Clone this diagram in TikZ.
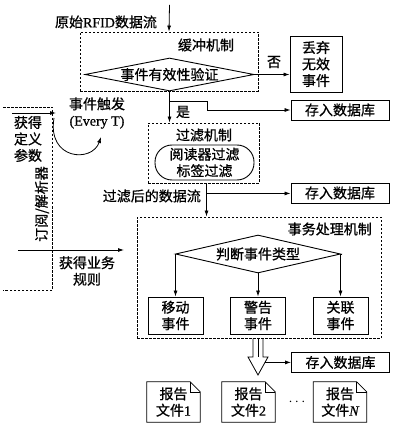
\documentclass[tikz,border=0pt]{standalone}
\usepackage{fontspec}
\setmainfont{Liberation Serif}[FakeBold=0.6]
\newfontfamily\cjk{Noto Sans CJK SC}[FakeBold=0.8]
\usetikzlibrary{positioning,shapes.geometric,arrows.meta,calc}

\tikzset{
    every node/.style={font=\cjk\fontsize{14}{16.5}\selectfont,inner sep=0pt,align=center},
    frame/.style={draw,line width=0.9pt,dash pattern=on 2.5pt off 1.5pt},
    box/.style={draw,line width=0.9pt},
    dbbox/.style={box,minimum width=98pt,minimum height=20pt},
    evbox/.style={box,minimum width=55pt,minimum height=37pt},
    decision/.style={draw,line width=0.9pt,diamond,aspect=5},
    doc/.style={minimum width=53pt,minimum height=40pt},
    arr/.style={-{Latex[length=6pt,width=4pt]},line width=0.8pt}
}

\begin{document}
\begin{tikzpicture}[x=1pt,y=-1pt]
                    \useasboundingbox (0,0) rectangle (408,427);

                    % The input stream
                    \coordinate (in) at (169.5,5);
                    \node (raw) at (106,22) {原始{\rmfamily RFID}数据流};

                    % The buffer
                    \node[frame,minimum width=178pt,minimum height=59pt] (buffer) at (169,61.5) {};
                    \node (buffertitle) at (206,45) {缓冲机制};
                    \node[decision,minimum width=169pt,minimum height=33pt] (valid) at (169.5,74.5) {事件有效性验证};
                    \node[box,minimum width=52pt,minimum height=56pt] (drop) at (316,64) {丢弃\\无效\\事件};
                    \node (no) at (274,62) {否};
                    \node[dbbox] (db1) at (340,110) {存入数据库};
                    \draw[arr] (in) -- (buffer.north);
                    \draw[arr] (valid.east) -- (valid.east -| drop.west);

                    % The filter
                    \node[frame,minimum width=111pt,minimum height=60pt] (filter) at (203.5,153) {};
                    \node (filtertitle) at (204,135) {过滤机制};
                    \node[box,rounded corners=17pt,minimum width=99pt,minimum height=35pt] (reader) at (204.5,162.5) {阅读器过滤\\标签过滤};
                    \node (yes) at (183,112) {是};
                    \coordinate (ysplit) at ($(valid.south)+(0,10)$);
                    \draw[arr] (valid.south) -- (valid.south |- filter.north);
                    \draw[arr] (ysplit) -- ++(38,0) |- (db1.west);

                    % The filtered stream
                    \node[anchor=east] (filtered) at (201,196) {过滤后的数据流};
                    \node[dbbox] (db2) at (340,193) {存入数据库};
                    \coordinate (fout) at ([xshift=3pt]filter.south);
                    \coordinate (fsplit) at ($(fout)+(0,10)$);

                    % The transaction handling
                    \node[frame,minimum width=244pt,minimum height=121pt] (process) at (259,277.5) {};
                    \node[anchor=east] (processtitle) at (372,229) {事务处理机制};
                    \node[decision,aspect=5.8,minimum width=165pt,minimum height=38pt] (type) at (258,254) {判断事件类型};
                    \node[evbox] (move) at (175.5,315.5) {移动\\事件};
                    \node[evbox] (warn) at (258,315.5) {警告\\事件};
                    \node[evbox] (assoc) at (340.5,315.5) {关联\\事件};
                    \draw[arr] (fout) -- (fout |- process.north);
                    \draw[arr] (fsplit) -- (fsplit -| db2.west);
                    \draw[arr] (type.west) -| (move.north);
                    \draw[arr] (type.south) -- (warn.north);
                    \draw[arr] (type.east) -| (assoc.north);

                    % The output
                    \coordinate (sl) at (253,338.5);
                    \coordinate (sm) at (258,338.5);
                    \coordinate (sr) at (263,338.5);
                    \coordinate (tip) at (258,375);
                    \node[dbbox] (db3) at (340.5,362.5) {存入数据库};
                    \draw[line width=0.8pt] (sl) -- ++(0,18.5) -- ++(-5,0) -- (tip) -- ($(sr)+(5,18.5)$) -- ++(-5,0) -- (sr);
                    \draw[line width=0.8pt] (sm) -- ++(0,18.5);
                    \coordinate (wing) at ($($(sr)+(5,18.5)$)!0.3!(tip)$);
                    \draw[arr] (wing) -- (wing -| db3.west);

                    % The reports
                    \node[doc] (rep1) at (173.5,402) {报告\\文件{\rmfamily 1}};
                    \node[doc] (rep2) at (248.5,402) {报告\\文件{\rmfamily 2}};
                    \node[doc] (repN) at (340,402) {报告\\文件{\rmfamily\itshape N}};
                    \node (dots) at (297,402) {$\cdots$};
                    \foreach \d in {rep1,rep2,repN} {
                        \draw[line width=0.8pt] (\d.south west) -- (\d.north west) -- ([xshift=-10pt]\d.north east) -- ([yshift=-10pt]\d.north east) -- (\d.south east) -- cycle;
                        \draw[line width=0.6pt] ([xshift=-10pt]\d.north east) -- ([xshift=-10pt,yshift=-10pt]\d.north east) -- ([yshift=-10pt]\d.north east);
                    }

                    % The subscriber / parser
                    \draw[frame] (3,107) -- (52,107) -- (52,290) -- (3,290);
                    \coordinate (pin) at (12,113);
                    \coordinate (pout) at (56,113);
                    \draw[arr] (pin) -- (pout);
                    \node (params) at (28,139) {获得\\定义\\参数};
                    \node[rotate=90] (parser) at (42,204) {订阅/解析器};
                    \coordinate (tstart) at (54,118);
                    \coordinate (tend) at (101,137);
                    \draw[arr] (tstart) .. controls (47,160) and (92,163) .. (tend);
                    \node (trigger) at (97,113) {事件触发\\{\rmfamily (Every T)}};
                    \coordinate (rin) at (18,250);
                    \coordinate (rout) at (124,250);
                    \draw[arr] (rin) -- (rout);
                    \node (rules) at (87,271) {获得业务\\规则};
                \end{tikzpicture}
\end{document}
